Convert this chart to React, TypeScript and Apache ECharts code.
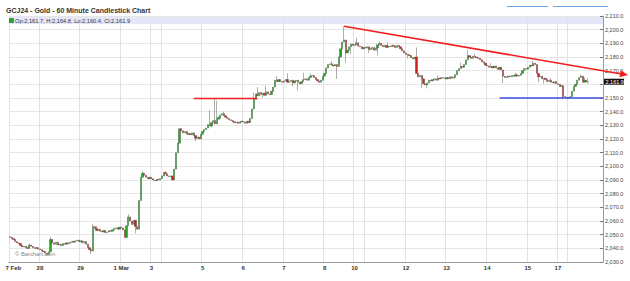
import React, { useEffect, useRef } from 'react';
import * as echarts from 'echarts';

const FONT = '"Liberation Sans", Arial, sans-serif';

// ---- Data (hourly closes per trading session) ----
const sessionDates = ['Feb 27', 'Feb 28', 'Feb 29', 'Mar 1', 'Mar 3', 'Mar 4', 'Mar 5', 'Mar 6', 'Mar 7', 'Mar 8', 'Mar 10', 'Mar 11', 'Mar 12', 'Mar 13', 'Mar 14', 'Mar 15', 'Mar 17', 'Mar 18'];
const sessionFirstHour = [6, 0, 0, 0, 18, 0, 0, 0, 0, 0, 18, 0, 0, 0, 0, 0, 18, 0];
const dayLabels = ['7 Feb', '28', '29', '1 Mar', '3', '', '5', '6', '7', '8', '10', '', '12', '13', '14', '15', '17', ''];

const firstOpen = 2048.5;
const closesFeb27 = [2048.0, 2047.0, 2046.5, 2045.0, 2044.0, 2043.5, 2042.0, 2041.0, 2041.5, 2040.5, 2040.0, 2042.5, 2041.5, 2040.5, 2040.0, 2040.5, 2039.5];
const closesFeb28 = [2039.0, 2038.0, 2037.5, 2036.5, 2035.5, 2037.5, 2046.5, 2044.0, 2043.0, 2044.5, 2042.5, 2043.0, 2042.0, 2043.5, 2043.0, 2044.0, 2043.5, 2044.5, 2045.0, 2044.5, 2045.5, 2046.0, 2045.0];
const closesFeb29 = [2045.5, 2044.0, 2045.0, 2043.0, 2040.5, 2039.0, 2038.0, 2056.0, 2054.5, 2053.0, 2054.0, 2052.5, 2052.0, 2053.0, 2051.5, 2052.0, 2053.0, 2052.5, 2053.5, 2054.5, 2055.0, 2054.0, 2055.5];
const closesMar1 = [2055.0, 2053.5, 2048.0, 2056.5, 2063.0, 2060.0, 2057.5, 2060.5, 2056.0, 2054.0, 2075.0, 2092.0, 2095.0, 2093.5, 2092.0, 2091.0, 2092.0];
const closesMar3 = [2091.0, 2090.0, 2089.5, 2090.5, 2090.0, 2091.0];
const closesMar4 = [2093.0, 2095.5, 2094.5, 2093.0, 2092.5, 2093.0, 2090.0, 2098.0, 2110.0, 2117.0, 2127.5, 2126.0, 2124.5, 2125.5, 2123.5, 2124.0, 2123.0, 2124.5, 2122.5, 2120.5, 2121.5, 2120.0, 2123.5];
const closesMar5 = [2125.5, 2127.0, 2128.0, 2130.5, 2129.5, 2132.0, 2133.5, 2131.0, 2134.5, 2136.0, 2137.5, 2138.5, 2137.0, 2136.0, 2135.0, 2134.0, 2133.5, 2132.5, 2132.0, 2132.5, 2131.5, 2132.5, 2133.0];
const closesMar6 = [2132.5, 2131.5, 2133.0, 2132.0, 2135.0, 2142.0, 2149.0, 2153.0, 2151.5, 2154.0, 2152.5, 2153.5, 2152.0, 2154.5, 2153.0, 2152.5, 2155.0, 2158.0, 2163.0, 2162.0, 2163.5, 2162.0, 2161.5];
const closesMar7 = [2162.5, 2163.5, 2161.5, 2162.0, 2163.0, 2161.0, 2162.5, 2163.0, 2161.5, 2160.5, 2162.0, 2163.5, 2164.0, 2163.0, 2165.0, 2166.0, 2166.5, 2165.0, 2163.5, 2162.5, 2161.5, 2163.0, 2166.0];
const closesMar8 = [2168.0, 2172.0, 2174.5, 2175.0, 2174.0, 2173.5, 2174.5, 2173.0, 2180.0, 2186.0, 2191.0, 2192.5, 2183.0, 2185.0, 2187.5, 2189.5, 2188.5];
const closesMar10 = [2189.0, 2190.5, 2188.0, 2187.5, 2186.0, 2187.0];
const closesMar11 = [2186.5, 2187.5, 2185.5, 2186.0, 2187.0, 2185.0, 2186.5, 2189.0, 2190.0, 2188.5, 2187.5, 2188.5, 2187.0, 2188.0, 2187.5, 2188.5, 2188.0, 2187.0, 2188.5, 2187.5, 2186.0, 2184.5, 2183.0];
const closesMar12 = [2182.0, 2181.5, 2181.0, 2179.5, 2178.5, 2180.0, 2168.0, 2165.5, 2166.5, 2164.0, 2160.5, 2159.5, 2161.0, 2163.0, 2162.5, 2163.5, 2164.0, 2163.0, 2164.5, 2164.0, 2165.0, 2164.5, 2164.0];
const closesMar13 = [2165.0, 2164.0, 2165.5, 2164.5, 2165.0, 2167.0, 2170.0, 2171.5, 2173.0, 2172.5, 2174.5, 2178.0, 2181.0, 2180.0, 2179.0, 2180.5, 2180.0, 2179.5, 2179.0, 2178.0, 2176.5, 2175.5, 2174.0];
const closesMar14 = [2173.5, 2172.5, 2173.0, 2172.0, 2173.5, 2172.0, 2171.0, 2172.5, 2170.5, 2166.0, 2165.0, 2165.5, 2166.0, 2165.5, 2166.5, 2166.0, 2167.0, 2166.0, 2166.5, 2168.0, 2170.0, 2171.5, 2171.0];
const closesMar15 = [2172.5, 2174.0, 2173.5, 2175.5, 2174.5, 2168.0, 2165.5, 2166.0, 2164.0, 2164.5, 2163.5, 2162.0, 2163.0, 2161.5, 2161.0, 2162.0, 2160.5];
const closesMar17 = [2160.0, 2158.5, 2159.0, 2151.0, 2150.5, 2150.0];
const closesMar18 = [2150.5, 2151.0, 2155.0, 2158.5, 2160.0, 2163.0, 2165.0, 2166.0, 2161.5, 2163.0, 2161.7, 2161.9];

// visible wicks: [bar index, high, low]
const wicks: [number, number | null, number | null][] = [
  [3, 2047.5, null], [11, 2043.5, null], [21, null, 2034.5], [23, 2048.5, null], [46, null, 2036.0], [47, 2058.0, null],
  [49, 2056.5, null], [67, 2065.0, null], [71, null, 2051.0], [75, 2096.5, null], [88, 2096.5, null], [105, null, 2118.5],
  [113, 2141.0, null], [114, null, 2128.5], [116, 2149.6, null], [117, 2148.0, null], [119, null, 2134.5], [121, 2140.0, null],
  [138, 2154.0, null], [140, 2158.0, null], [143, null, 2150.0], [145, 2159.0, null], [151, 2166.0, null],
  [157, 2168.0, null], [160, null, 2158.5], [163, null, 2155.5], [166, 2168.5, null], [170, 2168.0, null],
  [182, 2177.0, null], [185, null, 2164.0], [188, null, 2181.0], [189, 2202.5, null],
  [190, null, 2176.0], [193, null, 2182.5], [196, 2194.0, null], [203, null, 2183.0], [208, null, 2181.0],
  [209, 2191.5, null], [214, 2190.5, null], [225, null, 2179.0], [230, 2187.0, null], [233, null, 2157.5],
  [236, null, 2157.0], [242, 2166.5, null], [255, 2176.0, null], [259, 2185.0, null], [263, 2182.5, null],
  [272, 2175.5, null], [279, null, 2161.0], [286, 2168.5, null], [296, 2177.0, null], [299, null, 2161.5], [302, null, 2160.5],
  [306, 2164.5, null], [313, null, 2149.0], [315, null, 2149.2], [323, 2167.0, null], [325, 2165.0, null], [327, 2164.8, 2160.4],
];

const emptyBarsAfter = 8;
const lastClose = 2161.9;

// drawn studies
const resistanceLine: [number, number][] = [[189, 2202.5], [335, 2170.0]];
const highLine: [number, number][] = [[104, 2149.6], [140, 2149.6]];
const supportLine: [number, number][] = [[277, 2150.0], [335, 2150.0]];

const yMin = 2030, yMax = 2210, yStep = 10;
const hiddenYLabels = [2160];

const sessions = [closesFeb27, closesFeb28, closesFeb29, closesMar1, closesMar3, closesMar4, closesMar5, closesMar6, closesMar7, closesMar8, closesMar10, closesMar11, closesMar12, closesMar13, closesMar14, closesMar15, closesMar17, closesMar18];

export default function App() {
  const ref = useRef<HTMLDivElement>(null);
  useEffect(() => {
    const categories: string[] = [];
    const labelAt = new Map<number, string>();
    const dayStart = new Set<number>();
    const closes: number[] = [];
    sessions.forEach((s, si) => {
      dayStart.add(categories.length);
      labelAt.set(categories.length, dayLabels[si]);
      let h = sessionFirstHour[si];
      s.forEach((c) => {
        if (h === 17) h = 18;
        categories.push(`${sessionDates[si]} ${h}:00`);
        closes.push(c);
        h++;
      });
    });
    let eh = 12;
    for (let k = 0; k < emptyBarsAfter; k++) {
      if (eh === 17) eh = 18;
      categories.push(`Mar 18 ${eh}:00`);
      eh++;
    }
    const wmap = new Map(wicks.map((w) => [w[0], w]));
    let prev = firstOpen;
    const candles: any[] = closes.map((c, i) => {
      const o = prev;
      prev = c;
      const w = wmap.get(i);
      let hi = Math.max(o, c);
      let lo = Math.min(o, c);
      if (w && w[1] != null) hi = Math.max(hi, w[1]);
      if (w && w[2] != null) lo = Math.min(lo, w[2]);
      return [o, c, lo, hi];
    });
    for (let k = 0; k < emptyBarsAfter; k++) candles.push('-');

    const gridLeft = 9, gridRight = 27, gridTop = 16, gridBottom = 19;

    const chart = echarts.init(ref.current!, null, { renderer: 'svg' });
    chart.setOption({
      animation: false,
      textStyle: { fontFamily: FONT },
      grid: { left: gridLeft, right: gridRight, top: gridTop, bottom: gridBottom, containLabel: false },
      xAxis: {
        type: 'category',
        data: categories,
        boundaryGap: true,
        axisLine: { lineStyle: { color: '#9a9a9a', width: 1 } },
        axisTick: { show: false },
        axisLabel: {
          interval: (i: number) => !!labelAt.get(i),
          formatter: (v: string, i: number) => (i === 0 ? `{p|${labelAt.get(i)}}` : labelAt.get(i) || ''),
          fontSize: 6,
          color: '#333',
          fontWeight: 'bold',
          margin: 3,
          rich: { p: { padding: [0, 0, 0, 7], fontSize: 6, color: '#333', fontWeight: 'bold' } },
        },
        splitLine: {
          show: true,
          interval: (i: number) => dayStart.has(i),
          lineStyle: { color: '#e2e2e2', width: 1 },
        },
      },
      yAxis: {
        type: 'value',
        position: 'right',
        min: yMin,
        max: yMax,
        interval: yStep,
        scale: true,
        axisLine: { show: true, lineStyle: { color: '#9a9a9a' } },
        axisTick: { show: true, inside: true, length: 3, lineStyle: { color: '#777' } },
        axisLabel: {
          fontSize: 5.5,
          color: '#444',
          margin: 2,
          formatter: (v: number) => (hiddenYLabels.includes(v) ? '' : v.toLocaleString('en-US', { minimumFractionDigits: 1, maximumFractionDigits: 1 })),
        },
        splitLine: { show: true, lineStyle: { color: '#e6e6e6', width: 1 } },
      },
      series: [
        {
          type: 'candlestick',
          data: candles,
          barWidth: 1.7,
          clip: false,
          itemStyle: {
            color: '#1ea81e',
            color0: '#d41f1f',
            borderColor: '#3d5a3d',
            borderColor0: '#5a3d3d',
            borderWidth: 0.45,
          },
        },
      ],
    });

    const px = (p: [number, number]) => chart.convertToPixel({ gridIndex: 0 }, p) as number[];
    const W = chart.getWidth();
    const plotRight = W - gridRight;

    const r1 = px(resistanceLine[0]);
    const r2 = px(resistanceLine[1]);
    const slope = (r2[1] - r1[1]) / (r2[0] - r1[0]);
    const tipX = plotRight + 25;
    const tipY = r1[1] + (tipX - r1[0]) * slope;
    const ang = Math.atan(slope);
    const aLen = 8, aHalf = 3.5;
    const bx = tipX - aLen * Math.cos(ang), by = tipY - aLen * Math.sin(ang);
    const nx = -Math.sin(ang) * aHalf, ny = Math.cos(ang) * aHalf;

    const h1 = px(highLine[0]), h2 = px(highLine[1]);
    const s1 = px(supportLine[0]), s2 = px(supportLine[1]);
    const lc = px([327, lastClose]);

    chart.setOption({
      graphic: [
        { type: 'rect', z: 1, shape: { x: gridLeft, y: 17, width: plotRight - gridLeft, height: 7 }, style: { fill: 'rgba(226,226,250,0.85)' }, silent: true },
        { type: 'rect', z: 3, shape: { x: 9.5, y: 18.5, width: 4, height: 4 }, style: { fill: '#22aa22', stroke: '#2a5a2a', lineWidth: 0.6 } },
        { type: 'text', z: 3, x: 15, y: 20.6, style: { text: 'Op:2,161.7, H:2,164.8, Lo:2,160.4, Cl:2,161.9', fontSize: 5.7, fontFamily: FONT, fill: '#333', verticalAlign: 'middle' } },
        { type: 'text', z: 3, x: 6, y: 10, style: { text: 'GCJ24 - Gold - 60 Minute Candlestick Chart', fontSize: 7, fontWeight: 'bold', fontFamily: FONT, fill: '#333', verticalAlign: 'middle' } },
        { type: 'line', z: 3, shape: { x1: 507, y1: 6.5, x2: 548, y2: 6.5 }, style: { stroke: '#6aa6dc', lineWidth: 1 } },
        { type: 'line', z: 3, shape: { x1: 553, y1: 6.5, x2: 608, y2: 6.5 }, style: { stroke: '#6aa6dc', lineWidth: 1 } },
        { type: 'text', z: 3, x: 15, y: 253.5, style: { text: '© Barchart.com', fontSize: 5.8, fontFamily: FONT, fill: '#888', verticalAlign: 'middle' } },
        { type: 'line', z: 10, shape: { x1: h1[0], y1: h1[1], x2: h2[0], y2: h2[1] }, style: { stroke: '#f41c1c', lineWidth: 1.6 } },
        { type: 'line', z: 10, shape: { x1: s1[0], y1: s1[1], x2: plotRight, y2: s2[1] }, style: { stroke: '#3b4fe0', lineWidth: 1.6 } },
        { type: 'rect', z: 11, shape: { x: plotRight + 1, y: lc[1] - 3, width: 20, height: 6 }, style: { fill: '#111' } },
        { type: 'text', z: 12, x: plotRight + 2.5, y: lc[1], style: { text: '2,161.9', fontSize: 5.5, fontFamily: FONT, fill: '#fff', verticalAlign: 'middle' } },
        { type: 'line', z: 13, shape: { x1: r1[0], y1: r1[1], x2: bx, y2: by }, style: { stroke: '#f41c1c', lineWidth: 1.6 } },
        { type: 'polygon', z: 13, shape: { points: [[tipX, tipY], [bx + nx, by + ny], [bx - nx, by - ny]] }, style: { fill: '#f41c1c' } },
      ],
    });
    return () => chart.dispose();
  }, []);
  return <div ref={ref} style={{ position: 'fixed', left: 0, top: 0, width: 630, height: 281, background: '#fff' }} />;
}
